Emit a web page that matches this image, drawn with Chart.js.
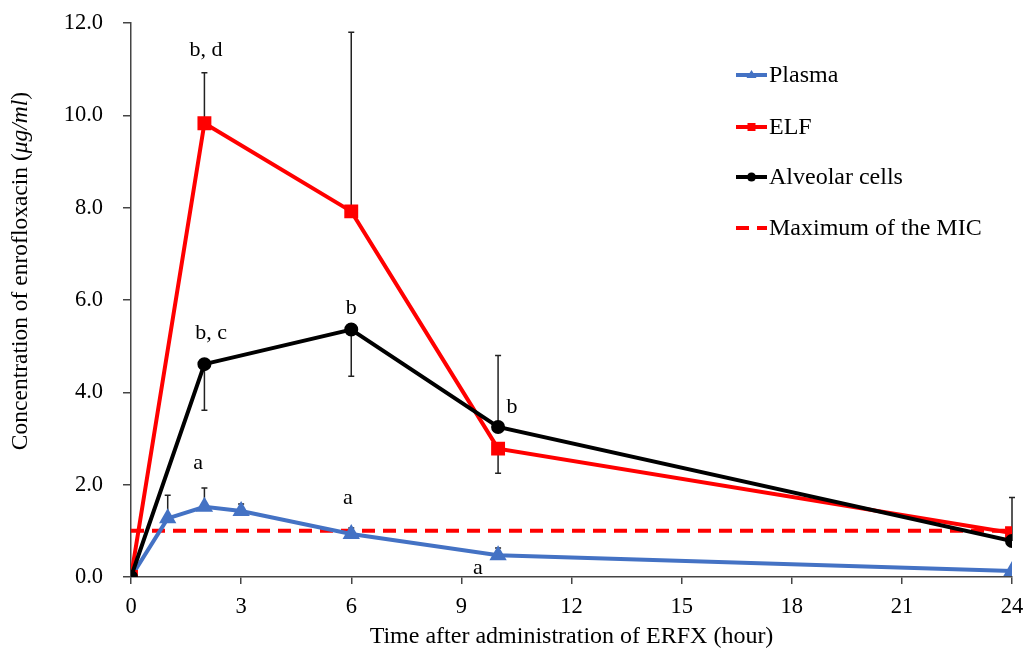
<!DOCTYPE html>
<html>
<head>
<meta charset="utf-8">
<script src="https://cdn.jsdelivr.net/npm/chart.js@4"></script>
<style>
  body { margin: 0; background: #fff; }
  #wrap { width: 1025px; height: 648px; }
</style>
</head>
<body>
<div id="wrap"><canvas id="pkChart" width="1025" height="648"></canvas></div>
<script>
const FONT = '"Liberation Serif", "Times New Roman", serif';

// time points (hour)
const plasmaHours = [0, 1, 2, 3, 6, 10, 24];
const tissueHours = [0, 2, 6, 10, 24];

// concentrations (ug/ml)
const plasmaConc = [0, 1.27, 1.52, 1.43, 0.93, 0.47, 0.13];
const elfConc = [0, 9.83, 7.92, 2.78, 0.95];
const cellConc = [0, 4.61, 5.36, 3.25, 0.78];
const micMax = 1.0;

// error bar ends (null = none)
const plasmaErrTop = [null, 1.77, 1.93, 1.58, 1.06, 0.63, null];
const elfErrTop = [null, 10.92, 11.8, null, null];
const elfErrBottom = [null, null, null, 2.25, null];
const cellErrTop = [null, null, null, 4.8, 1.72];
const cellErrBottom = [null, 3.61, 4.35, null, null];

// significance letters [text, x, y]
const letters = [
    ['b, d', 2.04, 11.4],
    ['b, c', 2.18, 5.28],
    ['b', 6.0, 5.82],
    ['b', 10.38, 3.68],
    ['a', 1.83, 2.47],
    ['a', 5.91, 1.71],
    ['a', 9.45, 0.2]
];

const xTicks = [0, 3, 6, 9, 12, 15, 18, 21, 24];
const yTicks = [0, 2, 4, 6, 8, 10, 12];

const toPoints = (xs, ys) => xs.map((x, i) => ({ x: x, y: ys[i] }));

// error bars, drawn under the lines
const errorBars = {
    id: 'errorBars',
    beforeDatasetsDraw(chart) {
        const { ctx, scales: { x, y } } = chart;
        const sets = [
            [plasmaHours, plasmaConc, plasmaErrTop],
            [tissueHours, elfConc, elfErrTop],
            [tissueHours, elfConc, elfErrBottom],
            [tissueHours, cellConc, cellErrTop],
            [tissueHours, cellConc, cellErrBottom]
        ];
        ctx.save();
        ctx.strokeStyle = '#222';
        ctx.lineWidth = 1.5;
        sets.forEach(([xs, ys, ends]) => {
            ends.forEach((end, i) => {
                if (end === null) return;
                const px = x.getPixelForValue(xs[i]);
                const p0 = y.getPixelForValue(ys[i]);
                const p1 = y.getPixelForValue(end);
                ctx.beginPath();
                ctx.moveTo(px, p0);
                ctx.lineTo(px, p1);
                ctx.moveTo(px - 3, p1);
                ctx.lineTo(px + 3, p1);
                ctx.stroke();
            });
        });
        ctx.restore();
    }
};

// letters, y axis title with italic unit, legend
const extras = {
    id: 'extras',
    afterDraw(chart) {
        const { ctx, scales: { x, y } } = chart;
        ctx.save();
        ctx.fillStyle = '#000';
        ctx.font = '22px ' + FONT;
        ctx.textAlign = 'center';
        ctx.textBaseline = 'middle';
        letters.forEach(([t, lx, ly]) => {
            ctx.fillText(t, x.getPixelForValue(lx), y.getPixelForValue(ly));
        });

        // y title
        ctx.translate(21, 271);
        ctx.rotate(-Math.PI / 2);
        const parts = [
            ['Concentration of enrofloxacin (', '23.5px ' + FONT],
            ['\u03bcg/ml', 'italic 23.5px ' + FONT],
            [')', '23.5px ' + FONT]
        ];
        let total = 0;
        parts.forEach(p => { ctx.font = p[1]; total += ctx.measureText(p[0]).width; });
        let cx = -total / 2;
        ctx.textAlign = 'left';
        parts.forEach(p => {
            ctx.font = p[1];
            ctx.fillText(p[0], cx, 0);
            cx += ctx.measureText(p[0]).width;
        });
        ctx.restore();

        // legend
        ctx.save();
        ctx.font = '24px ' + FONT;
        ctx.textBaseline = 'middle';
        const rows = [75, 127, 177, 228];
        chart.data.datasets.forEach((ds, i) => {
            const ly = rows[i];
            ctx.strokeStyle = ds.borderColor;
            ctx.lineWidth = 4;
            ctx.setLineDash(ds.borderDash || []);
            ctx.beginPath();
            ctx.moveTo(736, ly);
            ctx.lineTo(767, ly);
            ctx.stroke();
            ctx.setLineDash([]);
            ctx.fillStyle = ds.borderColor;
            const mx = 751.5;
            if (ds.pointStyle === 'triangle') {
                ctx.beginPath();
                ctx.moveTo(mx, ly - 5);
                ctx.lineTo(mx + 5, ly + 3);
                ctx.lineTo(mx - 5, ly + 3);
                ctx.closePath();
                ctx.fill();
            } else if (ds.pointStyle === 'rect') {
                ctx.fillRect(mx - 4, ly - 4, 8, 8);
            } else if (ds.pointStyle === 'circle') {
                ctx.beginPath();
                ctx.arc(mx, ly, 4.5, 0, Math.PI * 2);
                ctx.fill();
            }
            ctx.fillStyle = '#000';
            ctx.fillText(ds.label, 769, ly + 1);
        });
        ctx.restore();
    }
};

const ctx = document.getElementById('pkChart').getContext('2d');

const chart = new Chart(ctx, {
    type: 'line',
    data: {
        datasets: [
            {
                label: 'Plasma',
                data: toPoints(plasmaHours, plasmaConc),
                borderColor: '#4472C4',
                backgroundColor: '#4472C4',
                borderWidth: 4,
                pointStyle: 'triangle',
                pointRadius: 6,
                order: 2
            },
            {
                label: 'ELF',
                data: toPoints(tissueHours, elfConc),
                borderColor: '#FF0000',
                backgroundColor: '#FF0000',
                borderWidth: 4,
                pointStyle: 'rect',
                pointRadius: 7,
                order: 1
            },
            {
                label: 'Alveolar cells',
                data: toPoints(tissueHours, cellConc),
                borderColor: '#000000',
                backgroundColor: '#000000',
                borderWidth: 4,
                pointStyle: 'circle',
                pointRadius: 5,
                order: 0
            },
            {
                label: 'Maximum of the MIC',
                data: [{ x: 0, y: micMax }, { x: 24, y: micMax }],
                borderColor: '#FF0000',
                borderWidth: 4,
                borderDash: [13, 8],
                pointRadius: 0,
                pointStyle: false,
                order: 3
            }
        ]
    },
    options: {
        responsive: false,
        animation: false,
        layout: { autoPadding: false, padding: { top: 23, right: 13, left: 0, bottom: 0 } },
        elements: { line: { tension: 0 }, point: { borderWidth: 0, hoverRadius: 6 } },
        scales: {
            x: {
                type: 'linear',
                min: 0,
                max: 24,
                afterBuildTicks: axis => { axis.ticks = xTicks.map(v => ({ value: v })); },
                afterFit: axis => {
                    axis.height = 71;
                    axis.paddingLeft = 0;
                    axis.paddingRight = 0;
                },
                border: { color: '#444', width: 1.5 },
                grid: { drawOnChartArea: false, tickLength: 7, color: '#444', lineWidth: 1.5 },
                ticks: { color: '#000', padding: 10, font: { family: FONT, size: 22.5 }, maxRotation: 0 },
                title: {
                    display: true,
                    text: 'Time after administration of ERFX (hour)',
                    color: '#000',
                    font: { family: FONT, size: 24 },
                    padding: { top: 0, bottom: -3 }
                }
            },
            y: {
                min: 0,
                max: 12,
                afterBuildTicks: axis => { axis.ticks = yTicks.map(v => ({ value: v })); },
                afterFit: axis => {
                    axis.width = 131;
                    axis.paddingTop = 0;
                    axis.paddingBottom = 0;
                },
                border: { color: '#444', width: 1.5 },
                grid: { drawOnChartArea: false, tickLength: 8, color: '#444', lineWidth: 1.5 },
                ticks: {
                    color: '#000',
                    padding: 20,
                    font: { family: FONT, size: 22.5 },
                    callback: v => v.toFixed(1)
                }
            }
        },
        plugins: {
            legend: { display: false },
            tooltip: { enabled: false }
        }
    },
    plugins: [errorBars, extras]
});
</script>
</body>
</html>
